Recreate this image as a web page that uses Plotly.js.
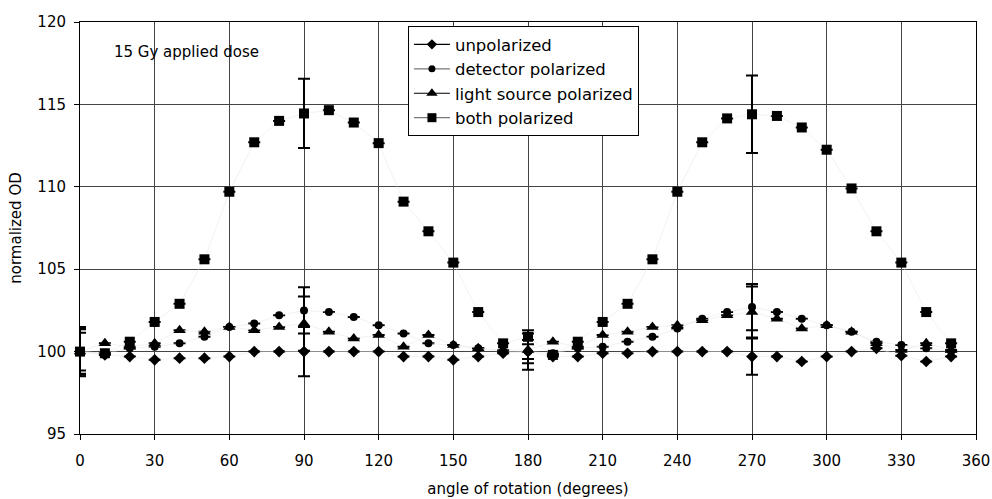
<!DOCTYPE html>
<html>
<head>
<meta charset="utf-8">
<script src="https://cdn.plot.ly/plotly-3.0.1.min.js"></script>
<style>
  html, body { margin: 0; padding: 0; background: #fff; }
  #chart { width: 992px; height: 499px; }
</style>
</head>
<body>
<div id="chart"></div>
<script>
// Angle of rotation (degrees)
const angles = [0, 10, 20, 30, 40, 50, 60, 70, 80, 90, 100, 110, 120, 130, 140, 150, 160, 170,
                180, 190, 200, 210, 220, 230, 240, 250, 260, 270, 280, 290, 300, 310, 320, 330, 340, 350];

// normalized OD values per series
const unpolarized = [100.0, 99.8, 99.7, 99.5, 99.6, 99.6, 99.7, 100.0, 100.0, 100.0, 100.0, 100.0,
                     100.0, 99.7, 99.7, 99.5, 99.7, 99.9, 100.0, 99.7, 99.7, 99.9, 99.9, 100.0,
                     100.0, 100.0, 100.0, 99.7, 99.7, 99.4, 99.7, 100.0, 100.2, 99.75, 99.4, 99.7];
const detectorPolarized = [100.0, 99.9, 100.2, 100.3, 100.5, 100.9, 101.5, 101.7, 102.2, 102.5, 102.4, 102.1,
                           101.6, 101.1, 100.5, 100.4, 100.2, 100.0, 100.0, 99.9, 100.2, 100.3, 100.6, 100.9,
                           101.4, 102.0, 102.4, 102.7, 102.4, 102.0, 101.6, 101.2, 100.6, 100.4, 100.2, 100.0];
const lightSourcePolarized = [100.0, 100.5, 100.3, 100.5, 101.3, 101.2, 101.5, 101.3, 101.5, 101.7, 101.2, 100.8,
                              101.0, 100.3, 101.0, 100.4, 100.2, 100.1, 100.1, 100.6, 100.3, 101.0, 101.2, 101.5,
                              101.6, 101.9, 102.2, 102.4, 102.0, 101.4, 101.6, 101.2, 100.5, 100.1, 100.5, 100.1];
const bothPolarized = [100.0, 99.9, 100.6, 101.8, 102.9, 105.6, 109.7, 112.7, 114.0, 114.45, 114.65, 113.9,
                       112.65, 109.1, 107.3, 105.4, 102.4, 100.5, 100.9, 99.8, 100.6, 101.8, 102.9, 105.6,
                       109.7, 112.7, 114.15, 114.4, 114.3, 113.6, 112.25, 109.9, 107.3, 105.4, 102.4, 100.5];

// error bar half-lengths (only at 0, 90, 180, 270 degrees)
const errUnpolarized = [1.5, null, null, null, null, null, null, null, null, 1.5, null, null, null, null, null, null, null, null,
                        0.45, null, null, null, null, null, null, null, null, 1.1, null, null, null, null, null, null, null, null];
const errDetector = [1.35, null, null, null, null, null, null, null, null, 1.4, null, null, null, null, null, null, null, null,
                     0.7, null, null, null, null, null, null, null, null, 1.4, null, null, null, null, null, null, null, null];
const errLightSource = [1.15, null, null, null, null, null, null, null, null, 1.65, null, null, null, null, null, null, null, null,
                        1.2, null, null, null, null, null, null, null, null, 1.55, null, null, null, null, null, null, null, null];
const errBoth = [1.4, null, null, null, null, null, null, null, null, 2.1, null, null, null, null, null, null, null, null,
                 0.2, null, null, null, null, null, null, null, null, 2.35, null, null, null, null, null, null, null, null];

const seriesNames = ['unpolarized', 'detector polarized', 'light source polarized', 'both polarized'];
const xTicks = [0, 30, 60, 90, 120, 150, 180, 210, 240, 270, 300, 330, 360];
const yTicks = [95, 100, 105, 110, 115, 120];

const FONT = 'DejaVu Sans, Liberation Sans, Arial, sans-serif';

const series = [
  {name: seriesNames[0], y: unpolarized, err: errUnpolarized, symbol: 'diamond', size: 9, legendLine: '#000'},
  {name: seriesNames[1], y: detectorPolarized, err: errDetector, symbol: 'circle', size: 8, legendLine: '#777'},
  {name: seriesNames[2], y: lightSourcePolarized, err: errLightSource, symbol: 'triangle-up', size: 11, legendLine: '#000'},
  {name: seriesNames[3], y: bothPolarized, err: errBoth, symbol: 'square', size: 10, legendLine: '#777'}
];

const traces = [];
series.forEach(s => {
  traces.push({
    type: 'scatter',
    mode: 'lines+markers',
    x: angles,
    y: s.y,
    name: s.name,
    showlegend: false,
    cliponaxis: false,
    line: {color: '#e4e4e4', width: 0.5},
    marker: {symbol: s.symbol, size: s.size, color: '#000'},
    error_y: {type: 'data', array: s.err, visible: true, color: '#000', thickness: 2, width: 6}
  });
});
// legend entries
series.forEach(s => {
  traces.push({
    type: 'scatter',
    mode: 'lines+markers',
    x: [null],
    y: [null],
    name: s.name,
    showlegend: true,
    line: {color: s.legendLine, width: 1.2},
    marker: {symbol: s.symbol, size: s.size - 1, color: '#000'}
  });
});

const layout = {
  width: 992,
  height: 499,
  margin: {l: 80, r: 16, t: 22, b: 65},
  paper_bgcolor: '#fff',
  plot_bgcolor: '#fff',
  font: {family: FONT, size: 15, color: '#000'},
  showlegend: true,
  legend: {
    x: 0.366, y: 0.99, xanchor: 'left', yanchor: 'top',
    bgcolor: '#fff', bordercolor: '#000', borderwidth: 1,
    font: {family: FONT, size: 16.5, color: '#000'},
    itemwidth: 36,
    tracegroupgap: 0
  },
  xaxis: {
    range: [0, 360],
    tickvals: xTicks,
    ticktext: xTicks.map(String),
    ticks: 'outside', ticklen: 5, tickcolor: '#000',
    ticklabelstandoff: 8,
    showgrid: true, gridcolor: '#444', gridwidth: 1,
    showline: true, linecolor: '#000', linewidth: 1, mirror: true,
    zeroline: false,
    tickfont: {family: FONT, size: 15, color: '#000'},
    title: {text: 'angle of rotation (degrees)', font: {family: FONT, size: 15, color: '#000'}, standoff: 14}
  },
  yaxis: {
    range: [95, 120],
    tickvals: yTicks,
    ticktext: yTicks.map(String),
    ticks: 'outside', ticklen: 5, tickcolor: '#000',
    ticklabelstandoff: 5,
    showgrid: true, gridcolor: '#444', gridwidth: 1,
    showline: true, linecolor: '#000', linewidth: 1, mirror: true,
    zeroline: false,
    tickfont: {family: FONT, size: 15, color: '#000'},
    title: {text: 'normalized OD', font: {family: FONT, size: 15, color: '#000'}, standoff: 12}
  },
  annotations: [{
    x: 13, y: 118.2, xref: 'x', yref: 'y', xanchor: 'left', yanchor: 'middle',
    text: '15 Gy applied dose', showarrow: false,
    font: {family: FONT, size: 15, color: '#000'}
  }]
};

Plotly.newPlot('chart', traces, layout, {displayModeBar: false, staticPlot: true});
</script>
</body>
</html>
